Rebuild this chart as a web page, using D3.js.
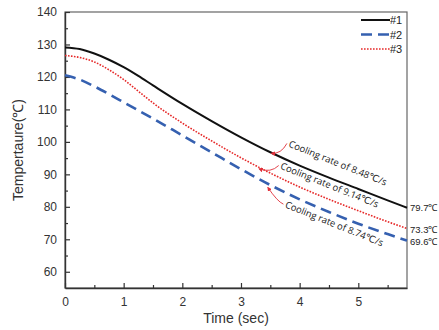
<!DOCTYPE html>
<html>
<head>
<meta charset="utf-8">
<script src="https://cdn.jsdelivr.net/npm/d3@7"></script>
<style>
  body { margin: 0; background: #fff; }
  svg { display: block; font-family: Arial, "Liberation Sans", sans-serif; }
</style>
</head>
<body>
<svg id="chart" width="439" height="330"></svg>
<script>
// data
var times = [0, 0.25, 0.5, 0.75, 1.0, 1.25, 1.5, 2.0, 2.5, 3.0, 3.5, 4.0, 4.5, 5.0, 5.5, 5.83];
var temp1 = [129.1, 128.6, 127.2, 125.3, 123.0, 120.3, 117.4, 111.7, 106.4, 101.4, 96.8, 92.7, 89.0, 85.5, 82.0, 79.7];
var temp3 = [126.6, 126.0, 124.6, 122.2, 119.2, 115.6, 112.0, 105.8, 100.3, 95.1, 90.4, 86.1, 82.3, 78.8, 75.4, 73.3];
var temp2 = [120.5, 119.2, 117.1, 114.7, 112.2, 109.7, 107.2, 102.0, 96.8, 91.6, 86.7, 82.3, 78.4, 74.8, 71.6, 69.6];

var seriesNames = ['#1', '#2', '#3'];
var endLabels = ['79.7\u2103', '73.3\u2103', '69.6\u2103'];
var xTicks = [0, 1, 2, 3, 4, 5];
var yTicks = [60, 70, 80, 90, 100, 110, 120, 130, 140];

// annotations: text, start point of label (time, temp), arrow target (time, temp)
var noteText = ['Cooling rate of 8.48\u2103/s', 'Cooling rate of 9.14\u2103/s', 'Cooling rate of 8.74\u2103/s'];
var noteAt = [[3.80, 98.6], [3.66, 91.8], [3.74, 79.9]];
var noteTarget = [[3.50, 96.8], [3.29, 92.0], [3.44, 86.3]];

var svg = d3.select('#chart');
var margin = { left: 65, right: 32, top: 12, bottom: 42 };
var W = 439, H = 330;

var x = d3.scaleLinear().domain([0, 5.83]).range([margin.left, W - margin.right]);
var y = d3.scaleLinear().domain([55, 140]).range([H - margin.bottom, margin.top]);

// frame (top + right)
svg.append('rect')
    .attr('x', x(0)).attr('y', y(140))
    .attr('width', x(5.83) - x(0)).attr('height', y(55) - y(140))
    .attr('fill', 'none').attr('stroke', '#666').attr('stroke-width', 1.2);

// axes, ticks pointing inward
svg.append('g').attr('transform', `translate(0,${y(55)})`)
    .call(d3.axisBottom(x).tickValues(xTicks).tickSizeInner(-5).tickSizeOuter(0).tickPadding(9).tickFormat(d3.format('d')));
svg.append('g').attr('transform', `translate(0,${y(55)})`)
    .call(d3.axisBottom(x).tickValues([0.5, 1.5, 2.5, 3.5, 4.5, 5.5]).tickSizeInner(-3).tickSizeOuter(0).tickFormat(''))
    .select('.domain').remove();

svg.append('g').attr('transform', `translate(${x(0)},0)`)
    .call(d3.axisLeft(y).tickValues(yTicks).tickSizeInner(-5).tickSizeOuter(0).tickPadding(8));
svg.append('g').attr('transform', `translate(${x(0)},0)`)
    .call(d3.axisLeft(y).tickValues([65, 75, 85, 95, 105, 115, 125, 135]).tickSizeInner(-3).tickSizeOuter(0).tickFormat(''))
    .select('.domain').remove();

svg.selectAll('.domain').attr('stroke', '#333').attr('stroke-width', 1.4);
svg.selectAll('.tick line').attr('stroke', '#333').attr('stroke-width', 1.2);
svg.selectAll('.tick text').attr('font-size', 12).attr('fill', '#333')
    .attr('font-family', 'Arial, "Liberation Sans", sans-serif');

// axis titles
svg.append('text')
    .attr('x', (x(0) + x(5.83)) / 2).attr('y', 323)
    .attr('text-anchor', 'middle').attr('font-size', 14).attr('fill', '#333')
    .text('Time (sec)');
svg.append('text')
    .attr('transform', `translate(23,${(y(55) + y(140)) / 2}) rotate(-90)`)
    .attr('text-anchor', 'middle').attr('font-size', 14).attr('fill', '#333')
    .text('Tempertaure(\u2103)');

// series
var series = [
  { name: seriesNames[0], vals: temp1, color: '#111', width: 2, dash: null },
  { name: seriesNames[1], vals: temp2, color: '#3560b0', width: 2.6, dash: '11,6' },
  { name: seriesNames[2], vals: temp3, color: '#e62a2a', width: 1.6, dash: '1.6,1.4' }
];

var line = d3.line()
    .x((d, i) => x(times[i]))
    .y(d => y(d))
    .curve(d3.curveMonotoneX);

svg.append('g').selectAll('path')
    .data(series)
  .enter().append('path')
    .attr('d', d => line(d.vals))
    .attr('fill', 'none')
    .attr('stroke', d => d.color)
    .attr('stroke-width', d => d.width)
    .attr('stroke-dasharray', d => d.dash);

// legend
var legend = svg.append('g');
series.forEach((s, i) => {
  var ly = 20 + i * 14.5;
  legend.append('line')
      .attr('x1', 361).attr('x2', 390).attr('y1', ly).attr('y2', ly)
      .attr('stroke', s.color).attr('stroke-width', s.width)
      .attr('stroke-dasharray', s.dash);
  legend.append('text')
      .attr('x', 390).attr('y', ly + 4)
      .attr('font-size', 11).attr('fill', '#222')
      .text(s.name);
});

// end values on the right
var endY = [207, 229, 241];
endLabels.forEach((t, i) => {
  svg.append('text')
      .attr('x', x(5.83) + 3).attr('y', endY[i] + 3.5)
      .attr('font-size', 9.5).attr('fill', '#222')
      .attr('font-family', '"Liberation Sans Narrow", Arial, sans-serif')
      .text(t);
});

// arrowhead
svg.append('defs').append('marker')
    .attr('id', 'arr').attr('viewBox', '0 0 6 6').attr('refX', 5).attr('refY', 3)
    .attr('markerWidth', 5).attr('markerHeight', 5).attr('orient', 'auto')
  .append('path').attr('d', 'M0,0 L6,3 L0,6 z').attr('fill', '#e0303a');

// annotations
noteText.forEach((t, i) => {
  var sx = x(noteAt[i][0]), sy = y(noteAt[i][1]);
  var tx = x(noteTarget[i][0]), ty = y(noteTarget[i][1]);
  svg.append('text')
      .attr('transform', `translate(${sx},${sy}) rotate(22)`)
      .attr('font-size', 9.5).attr('fill', '#222')
      .attr('font-family', '"Open Sans", "DejaVu Sans", sans-serif')
      .text(t);
  var mx = (sx + tx) / 2, my = (sy + ty) / 2;
  svg.append('path')
      .attr('d', `M${sx - 1},${sy - 3} Q${mx + 2},${my + 5} ${tx + 1},${ty + 1}`)
      .attr('fill', 'none').attr('stroke', '#e0303a').attr('stroke-width', 0.9)
      .attr('marker-end', 'url(#arr)');
});
</script>
</body>
</html>
